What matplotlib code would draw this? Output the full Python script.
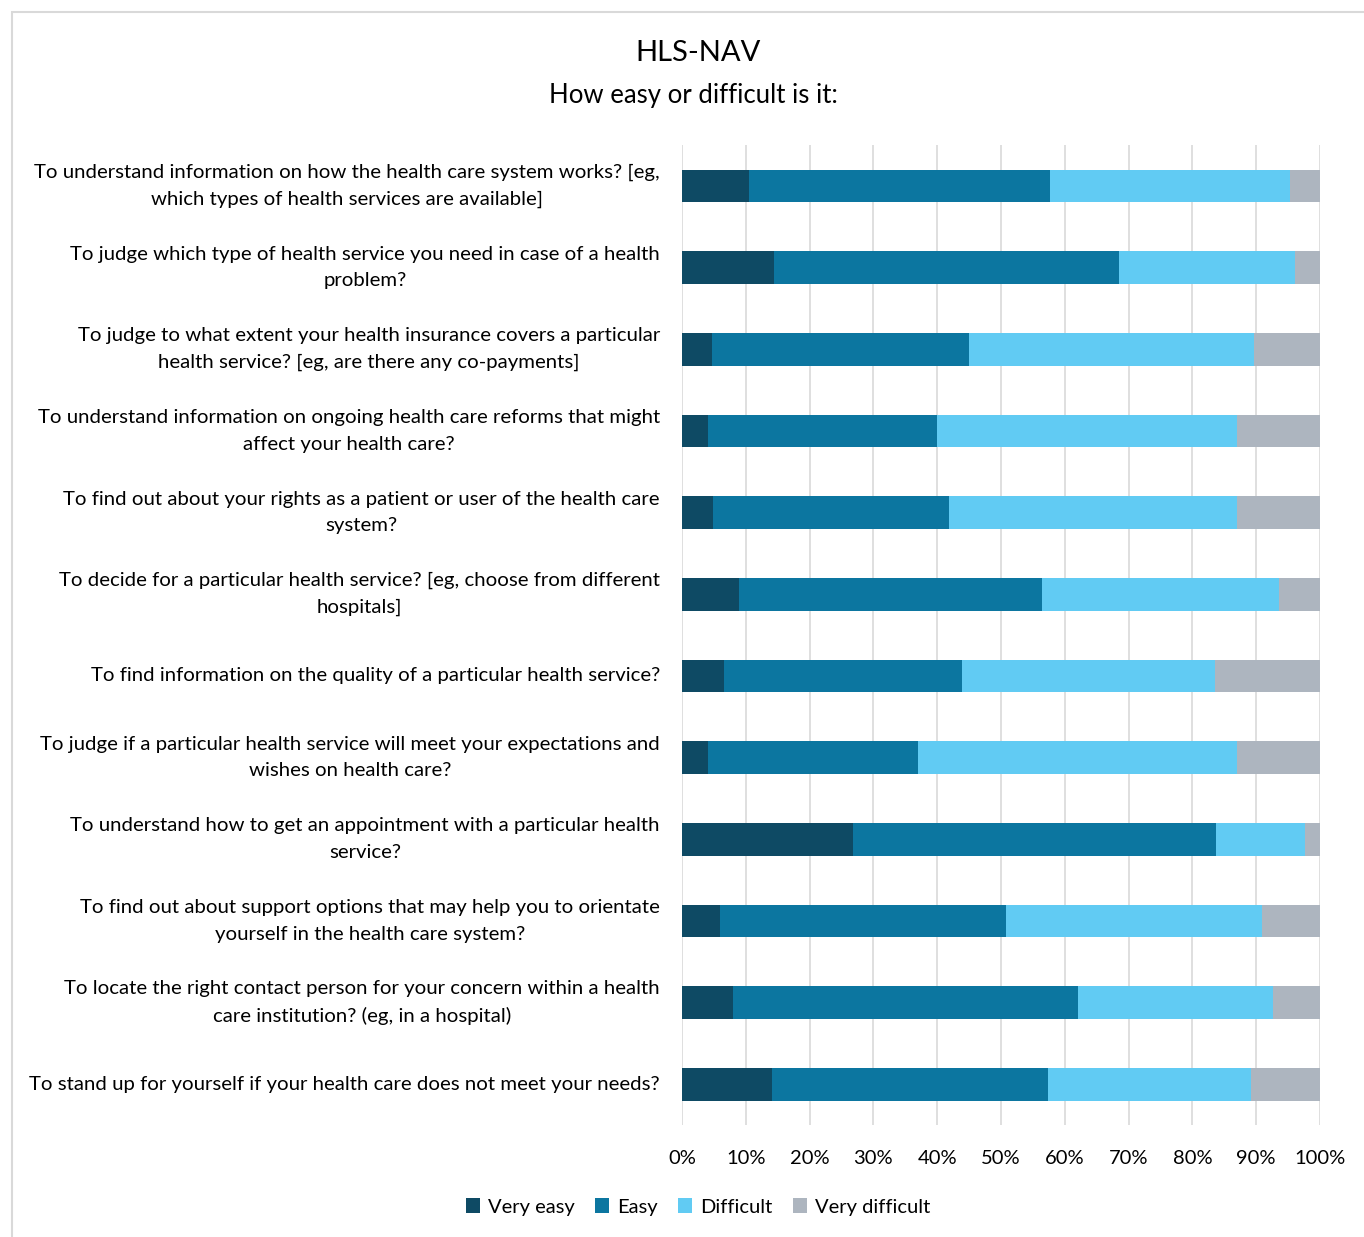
import matplotlib.pyplot as plt
from matplotlib.patches import Rectangle
import numpy as np

plt.rcParams['font.family'] = ['Lato', 'DejaVu Sans']

questions = [
    'To understand information on how the health care system works? [eg,\nwhich types of health services are available]',
    'To judge which type of health service you need in case of a health\nproblem?',
    'To judge to what extent your health insurance covers a particular\nhealth service? [eg, are there any co-payments]',
    'To understand information on ongoing health care reforms that might\naffect your health care?',
    'To find out about your rights as a patient or user of the health care\nsystem?',
    'To decide for a particular health service? [eg, choose from different\nhospitals]',
    'To find information on the quality of a particular health service?',
    'To judge if a particular health service will meet your expectations and\nwishes on health care?',
    'To understand how to get an appointment with a particular health\nservice?',
    'To find out about support options that may help you to orientate\nyourself in the health care system?',
    'To locate the right contact person for your concern within a health\ncare institution? (eg, in a hospital)',
    'To stand up for yourself if your health care does not meet your needs?',
]

very_easy = [10.5, 14.4, 4.7, 4.1, 4.9, 8.9, 6.6, 4.1, 26.8, 6.0, 8.0, 14.1]
easy = [47.2, 54.1, 40.3, 35.9, 36.9, 47.5, 37.3, 32.9, 56.9, 44.8, 54.1, 43.3]
difficult = [37.6, 27.6, 44.7, 47.0, 45.2, 37.2, 39.6, 50.0, 13.9, 40.1, 30.5, 31.8]
very_difficult = [4.7, 3.9, 10.3, 13.0, 13.0, 6.4, 16.5, 13.0, 2.4, 9.1, 7.4, 10.8]

series = ['Very easy', 'Easy', 'Difficult', 'Very difficult']
colors = ['#0E4A64', '#0C76A0', '#61CBF3', '#ADB5BF']

fig = plt.figure(figsize=(13.64, 12.37), dpi=100)
ax = fig.add_axes([682/1364, 1-1125/1237, 638/1364, 980/1237])

y = np.arange(len(questions))
left = np.zeros(len(questions))
for name, vals, c in zip(series, [very_easy, easy, difficult, very_difficult], colors):
    vals = np.array(vals)
    ax.barh(y, vals, left=left, height=0.4, color=c, label=name, zorder=3)
    left += vals

ax.set_xlim(0, 100)
ax.set_ylim(len(questions) - 0.5, -0.5)
ax.set_xticks(np.arange(0, 101, 10))
ax.set_xticklabels([f'{v}%' for v in range(0, 101, 10)], fontsize=14.5)
ax.set_yticks(y)
ax.set_yticklabels(questions, fontsize=14.7, multialignment='center', linespacing=1.7, va='center')
ax.tick_params(length=0, pad=16, axis='y')
ax.tick_params(length=0, pad=18, axis='x')
ax.grid(axis='x', color='#D9D9D9', lw=1.2, zorder=0)
for s in ax.spines.values():
    s.set_visible(False)

fig.text(698/1364, 1-53/1237, 'HLS-NAV', ha='center', va='center', fontsize=21)
fig.text(693/1364, 1-95/1237, 'How easy or difficult is it:', ha='center', va='center', fontsize=18.5)

fig.legend(loc='center', bbox_to_anchor=(698/1364, 1-1207/1237), ncol=4, frameon=False,
           fontsize=14.5, handlelength=0.7, handleheight=0.7, handletextpad=0.4, columnspacing=1.0)

fig.patches.append(Rectangle((12/1364, -0.1), 1.2, 1.1 - 12/1237, transform=fig.transFigure,
                             fill=False, edgecolor='#D9D9D9', lw=1.5))

fig.savefig('out.png', dpi=100)
